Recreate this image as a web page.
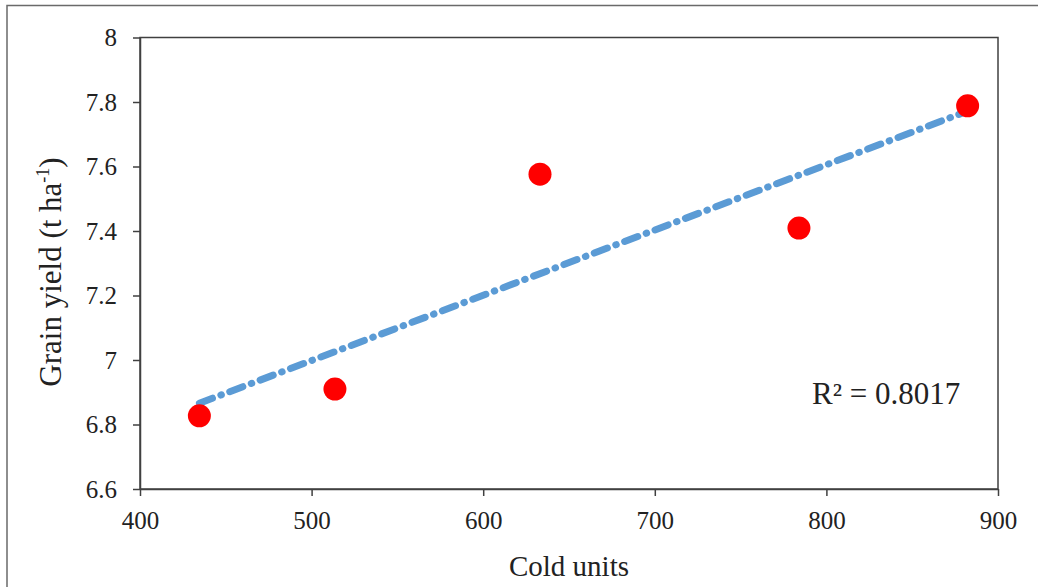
<!DOCTYPE html>
<html>
<head>
<meta charset="utf-8">
<script src="https://cdn.jsdelivr.net/npm/d3@7"></script>
<style>
  body { margin: 0; background: #fff; }
  text { font-family: "Liberation Serif", "Times New Roman", serif; fill: #222; }
</style>
</head>
<body>
<script>
const width = 1038;
const height = 587;

// data
const coldUnits = [434.6, 513.6, 633.1, 784.0, 882.3];
const grainYield = [6.827, 6.91, 7.576, 7.409, 7.788];

// linear trendline ends (Excel fit)
const trendX = [434.6, 882.3];
const trendY = [6.866, 7.772];

const xTicks = [400, 500, 600, 700, 800, 900];
const yTicks = [6.6, 6.8, 7, 7.2, 7.4, 7.6, 7.8, 8];
const r2Label = "R\u00b2 = 0.8017";

const plot = { left: 140, right: 998, top: 37.5, bottom: 489 };

const svg = d3
  .select("body")
  .append("svg")
  .attr("width", width)
  .attr("height", height);

// outer chart border (only top and left visible in crop)
svg
  .append("path")
  .attr("d", `M7,${height} L7,5.5 L${width},5.5`)
  .attr("fill", "none")
  .attr("stroke", "#6a6a6a")
  .attr("stroke-width", 1.5);

const xScale = d3
  .scaleLinear()
  .domain([400, 900])
  .range([plot.left, plot.right]);

const yScale = d3
  .scaleLinear()
  .domain([6.6, 8])
  .range([plot.bottom, plot.top]);

// plot frame
svg
  .append("rect")
  .attr("x", plot.left)
  .attr("y", plot.top)
  .attr("width", plot.right - plot.left)
  .attr("height", plot.bottom - plot.top)
  .attr("fill", "none")
  .attr("stroke", "#404040")
  .attr("stroke-width", 1.5);

const xAxis = d3
  .axisBottom(xScale)
  .tickValues(xTicks)
  .tickSize(7)
  .tickSizeOuter(0)
  .tickPadding(15)
  .tickFormat(d3.format("d"));

const gx = svg
  .append("g")
  .attr("transform", "translate(0," + plot.bottom + ")")
  .call(xAxis);

const yAxis = d3
  .axisLeft(yScale)
  .tickValues(yTicks)
  .tickSize(7)
  .tickSizeOuter(0)
  .tickPadding(16)
  .tickFormat((d) => d3.format("")(+d.toFixed(1)));

const gy = svg
  .append("g")
  .attr("transform", "translate(" + plot.left + ",0)")
  .call(yAxis);

[gx, gy].forEach((g) => {
  g.select(".domain").attr("stroke", "#404040").attr("stroke-width", 1.5);
  g.selectAll(".tick line").attr("stroke", "#404040").attr("stroke-width", 1.5);
  g.selectAll(".tick text")
    .attr("font-size", 25)
    .attr("fill", "#222");
});

// trendline
svg
  .append("line")
  .attr("x1", xScale(trendX[0]))
  .attr("y1", yScale(trendY[0]))
  .attr("x2", xScale(trendX[1]))
  .attr("y2", yScale(trendY[1]))
  .attr("stroke", "#5B9BD5")
  .attr("stroke-width", 7)
  .attr("stroke-linecap", "round")
  .attr("stroke-dasharray", "14 9 0.5 9");

// points
svg
  .selectAll("circle.pt")
  .data(coldUnits)
  .enter()
  .append("circle")
  .attr("class", "pt")
  .attr("cx", (d) => xScale(d))
  .attr("cy", (d, i) => yScale(grainYield[i]))
  .attr("r", 11.5)
  .attr("fill", "#FF0000");

// R squared
svg
  .append("text")
  .attr("x", 812)
  .attr("y", 404)
  .attr("font-size", 31)
  .text(r2Label);

// axis titles
svg
  .append("text")
  .attr("x", (plot.left + plot.right) / 2)
  .attr("y", 576)
  .attr("text-anchor", "middle")
  .attr("font-size", 29)
  .text("Cold units");

const yTitle = svg
  .append("text")
  .attr("transform", "translate(61," + 272 + ") rotate(-90)")
  .attr("text-anchor", "middle")
  .attr("font-size", 31);
yTitle.append("tspan").text("Grain yield (t ha");
yTitle.append("tspan").attr("font-size", 18).attr("dy", -12).text("-1");
yTitle.append("tspan").attr("dy", 12).text(")");
</script>
</body>
</html>
